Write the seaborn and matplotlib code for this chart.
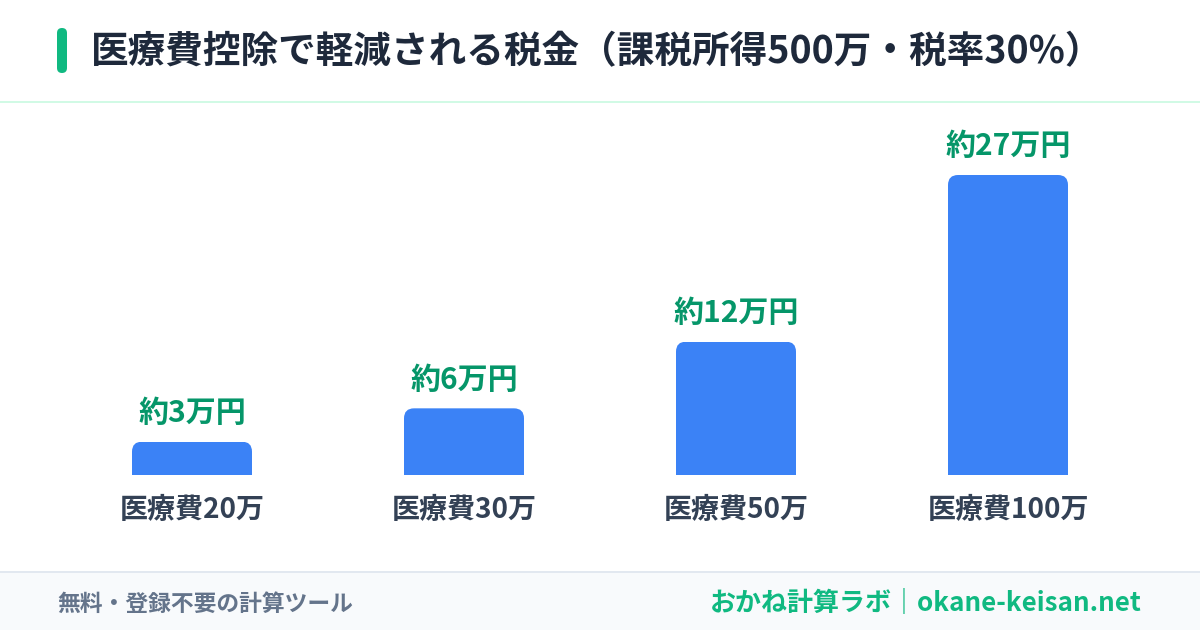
import matplotlib
matplotlib.use("Agg")
import matplotlib.pyplot as plt
from matplotlib.patches import FancyBboxPatch, Rectangle
from matplotlib.transforms import IdentityTransform
import seaborn as sns
import pandas as pd

categories = ["医療費20万", "医療費30万", "医療費50万", "医療費100万"]
tax_saved = [3, 6, 12, 27]
value_labels = ["約3万円", "約6万円", "約12万円", "約27万円"]
title = "医療費控除で軽減される税金（課税所得500万・税率30%）"
footer_left = "無料・登録不要の計算ツール"
footer_right = "おかね計算ラボ｜okane-keisan.net"

sns.set_theme(style="white")
plt.rcParams['font.family'] = ['Noto Sans CJK JP', 'DejaVu Sans']

W, H = 1200, 630
fig = plt.figure(figsize=(W / 100, H / 100), dpi=100, facecolor="white")
PX = 72 / 100  # points per pixel


def fy(y):
    return 1 - y / H


# header accent + title
fig.patches.append(FancyBboxPatch((57, H - 73), 10, 45, boxstyle="round,pad=0,rounding_size=5",
                                  transform=IdentityTransform(), facecolor="#10b981",
                                  edgecolor="none", figure=fig))
fig.text(91 / W, fy(52), title, fontsize=37.6 * PX, fontweight="bold", color="#1e293b",
         ha="left", va="center")
fig.patches.append(Rectangle((0, H - 103), W, 2, transform=IdentityTransform(),
                             facecolor="#d1fae5", edgecolor="none", figure=fig))

# footer
fig.patches.append(Rectangle((0, 0), W, H - 572, transform=IdentityTransform(),
                             facecolor="#f8fafc", edgecolor="none", figure=fig))
fig.patches.append(Rectangle((0, H - 573), W, 2, transform=IdentityTransform(),
                             facecolor="#e2e8f0", edgecolor="none", figure=fig))
fig.text(57 / W, fy(604), footer_left, fontsize=22.8 * PX, fontweight="bold", color="#64748b",
         ha="left", va="center")
fig.text(1142 / W, fy(604), footer_right, fontsize=26 * PX, fontweight="bold", color="#10b981",
         ha="right", va="center")

# chart axes: baseline at y=475, 27 units -> 300 px
ax_bottom, ax_top = 475, 115
ax = fig.add_axes([56 / W, (H - ax_bottom) / H, 1088 / W, (ax_bottom - ax_top) / H])
ax.set_facecolor("none")
df = pd.DataFrame({"cat": categories, "val": tax_saved})
sns.barplot(data=df, x="cat", y="val", color="#3b82f6", saturation=1, width=120 / 272, ax=ax)
ymax = 27 * (ax_bottom - ax_top) / 300
ax.set_ylim(0, ymax)
ax.set_xlim(-0.5, 3.5)

# rounded top corners via clip paths
px_per_x = 272
px_per_y = 300 / 27
r = 10
for bar in ax.patches:
    x, w, h = bar.get_x(), bar.get_width(), bar.get_height()
    rx = r / px_per_x
    ry = r / px_per_y
    clip = FancyBboxPatch((x, -ry), w, h + ry,
                          boxstyle=f"round,pad=0,rounding_size={rx}",
                          mutation_aspect=ry / rx, transform=ax.transData,
                          facecolor="none", edgecolor="none")
    bar.set_clip_path(clip)
    bar.set_edgecolor("none")

for i, (v, lab) in enumerate(zip(tax_saved, value_labels)):
    ax.annotate(lab, (i, v), xytext=(0, 28.5 * PX), textcoords="offset points",
                ha="center", va="center", fontsize=30 * PX, fontweight="bold",
                color="#059669", annotation_clip=False)

for s in ax.spines.values():
    s.set_visible(False)
ax.set_yticks([])
ax.set_xlabel("")
ax.set_ylabel("")
ax.tick_params(axis="x", length=0, pad=21 * PX)
for t in ax.get_xticklabels():
    t.set_fontsize(28 * PX)
    t.set_fontweight("bold")
    t.set_color("#334155")

fig.savefig("out.png", dpi=100, facecolor="white")
